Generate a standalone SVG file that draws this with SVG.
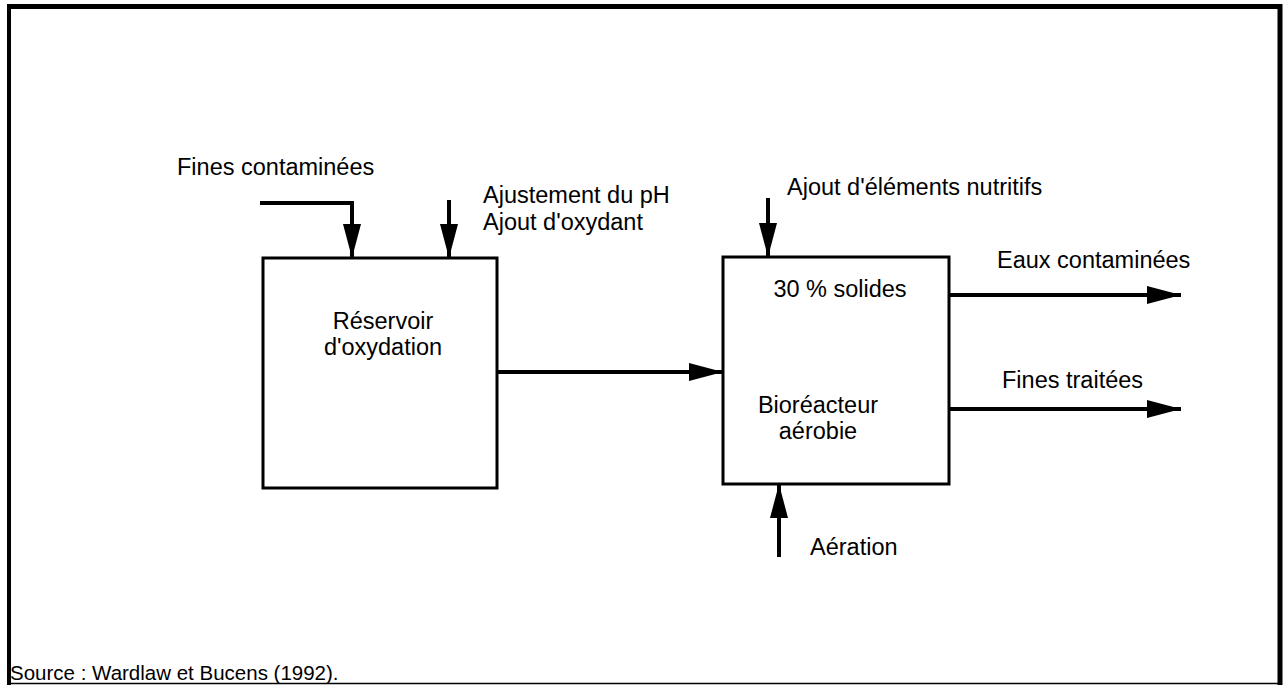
<svg xmlns="http://www.w3.org/2000/svg" width="1285" height="685" viewBox="0 0 1285 685">
  <style>
    text { font-family: "Liberation Sans", Arial, sans-serif; font-size: 23.5px; fill: #000; }
    .src { font-size: 20.5px; }
    .box { fill: #fff; stroke: #000; stroke-width: 3; }
    .flow { fill: none; stroke: #000; stroke-width: 4; }
    .mid { text-anchor: middle; }
  </style>
  <defs>
    <marker id="head" viewBox="0 0 34 18" refX="34" refY="9" markerWidth="34" markerHeight="18" markerUnits="userSpaceOnUse" orient="auto">
      <path d="M0,0 L34,9 L0,18 Z" fill="#000"/>
    </marker>
  </defs>
  <rect width="1285" height="685" fill="#fff"/>

  <!-- outer frame -->
  <g id="frame" stroke="#000" fill="none">
    <line x1="9" y1="4" x2="9" y2="685" stroke-width="4"/>
    <line x1="7" y1="6.5" x2="1282" y2="6.5" stroke-width="5"/>
    <line x1="1280" y1="4" x2="1280" y2="685" stroke-width="5"/>
    <line x1="9" y1="683.5" x2="1280" y2="683.5" stroke-width="1.5"/>
  </g>

  <!-- flows -->
  <g id="connectors" class="flow">
    <path d="M260,203 H352 V258" marker-end="url(#head)"/>
    <path d="M449,200 V258" marker-end="url(#head)"/>
    <path d="M497,372 H723" marker-end="url(#head)"/>
    <path d="M768,198 V257" marker-end="url(#head)"/>
    <path d="M949,295 H1181" marker-end="url(#head)"/>
    <path d="M949,409 H1181" marker-end="url(#head)"/>
    <path d="M779,557 V484" marker-end="url(#head)"/>
  </g>

  <g id="reservoir">
    <rect class="box" x="263" y="258" width="234" height="230"/>
    <text class="mid" x="383" y="329">Réservoir</text>
    <text class="mid" x="383" y="355">d'oxydation</text>
  </g>

  <g id="bioreacteur">
    <rect class="box" x="723" y="257" width="226" height="227"/>
    <text class="mid" x="840" y="297">30 % solides</text>
    <text class="mid" x="818" y="413">Bioréacteur</text>
    <text class="mid" x="818" y="439">aérobie</text>
  </g>

  <g id="labels">
    <text x="177" y="175">Fines contaminées</text>
    <text x="483" y="203">Ajustement du pH</text>
    <text x="483" y="230">Ajout d'oxydant</text>
    <text x="787" y="195">Ajout d'éléments nutritifs</text>
    <text x="997" y="268">Eaux contaminées</text>
    <text x="1002" y="388">Fines traitées</text>
    <text x="810" y="555">Aération</text>
    <text class="src" x="10" y="680">Source : Wardlaw et Bucens (1992).</text>
  </g>
</svg>
